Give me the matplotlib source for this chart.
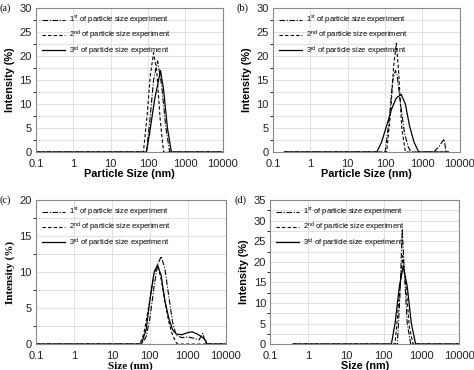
"""DLS particle size distributions, four samples (a)-(d)."""
import matplotlib
matplotlib.use("Agg")
import matplotlib.pyplot as plt
from matplotlib.ticker import MultipleLocator, FixedLocator

plt.rcParams["font.family"] = ["Liberation Sans", "DejaVu Sans"]
plt.rcParams["mathtext.fontset"] = "custom"
plt.rcParams["mathtext.rm"] = "Liberation Sans"

# ── data (size nm, intensity %) ────────────────────────────────────
# (a)
a1_x = [0.1, 90, 110, 140, 180, 230, 300, 380, 10000]
a1_y = [0, 0, 6, 15, 19, 14, 5, 0, 0]
a2_x = [0.1, 75, 95, 115, 140, 170, 210, 260, 10000]
a2_y = [0, 0, 8, 16, 20.7, 17, 7, 0, 0]
a3_x = [0.1, 90, 110, 150, 215, 260, 330, 420, 10000]
a3_y = [0, 0, 4, 11, 17, 13, 5, 0, 0]

# (b)
b1_x = [0.2, 100, 130, 160, 190, 210, 260, 330, 420, 500, 2000, 2800, 3800, 4300, 5000]
b1_y = [0, 0, 7, 15, 17, 16, 10, 4, 1, 0, 0, 1.2, 2.7, 0, 0]
b2_x = [0.2, 110, 140, 170, 200, 230, 280, 350, 5000]
b2_y = [0, 0, 8, 18, 22.7, 17, 5, 0, 0]
b3_x = [0.2, 60, 80, 110, 150, 200, 270, 350, 450, 600, 800, 5000]
b3_y = [0, 0, 2, 5.5, 9, 11.3, 12, 10, 5.5, 2, 0, 0]

# (c)
c1_x = [0.1, 60, 80, 100, 130, 160, 200, 250, 320, 400, 500, 700, 1000, 1500, 2000, 2500, 2800, 3100, 10000]
c1_y = [0, 0, 1, 3.5, 8, 11, 12.2, 10.5, 6.5, 3, 1.2, 0.9, 1.0, 0.8, 0.6, 1.5, 0.5, 0, 0]
c2_x = [0.1, 55, 70, 100, 130, 165, 200, 250, 320, 400, 500, 560, 10000]
c2_y = [0, 0, 1.5, 6, 10, 10.7, 9, 6, 3, 1.2, 0.2, 0, 0]
c3_x = [0.1, 60, 80, 100, 130, 160, 200, 250, 320, 400, 500, 700, 1000, 1300, 1800, 2500, 3000, 3200, 10000]
c3_y = [0, 0, 2, 6, 10, 11, 9.5, 6, 3.5, 2, 1.4, 1.3, 1.6, 1.7, 1.4, 0.9, 0.5, 0, 0]

# (d)
d1_x = [0.4, 230, 270, 310, 350, 420, 520, 10000]
d1_y = [0, 0, 12, 28, 18, 5, 0, 0]
d2_x = [0.4, 200, 250, 320, 390, 480, 600, 10000]
d2_y = [0, 0, 10, 21.5, 14, 4, 0, 0]
d3_x = [0.4, 160, 200, 260, 330, 420, 540, 700, 10000]
d3_y = [0, 0, 5, 14, 19, 14, 5, 0, 0]

labels = ["1$^{\\mathrm{st}}$ of particle size experiment",
          "2$^{\\mathrm{nd}}$ of particle size experiment",
          "3$^{\\mathrm{rd}}$ of particle size experiment"]

panels = [
    ("(a)", [0.076, 0.589, 0.394, 0.389], (a1_x, a1_y, a2_x, a2_y, a3_x, a3_y),
     30, "Particle Size (nm)", False),
    ("(b)", [0.576, 0.589, 0.394, 0.389], (b1_x, b1_y, b2_x, b2_y, b3_x, b3_y),
     30, "Particle Size (nm)", False),
    ("(c)", [0.076, 0.070, 0.400, 0.389], (c1_x, c1_y, c2_x, c2_y, c3_x, c3_y),
     20, "Size (nm)", True),
    ("(d)", [0.570, 0.070, 0.399, 0.389], (d1_x, d1_y, d2_x, d2_y, d3_x, d3_y),
     35, "Size (nm)", False),
]

fig = plt.figure(figsize=(4.74, 3.70), dpi=100)

for tag, pos, data, ymax, xlabel, serif in panels:
    ax = fig.add_axes(pos)
    x1, y1, x2, y2, x3, y3 = data
    ax.plot(x1, y1, color="black", lw=0.8, ls=(0, (5, 1.5, 1, 1.5)), label=labels[0])
    ax.plot(x2, y2, color="black", lw=0.8, ls=(0, (3, 2)), label=labels[1])
    ax.plot(x3, y3, color="black", lw=0.9, ls="-", label=labels[2])
    ax.set_xscale("log")
    ax.set_xlim(0.1, 10000)
    ax.set_ylim(0, ymax)
    ax.xaxis.set_major_locator(FixedLocator([0.1, 1, 10, 100, 1000, 10000]))
    ax.set_xticklabels(["0.1", "1", "10", "100", "1000", "10000"])
    ax.xaxis.set_minor_locator(FixedLocator([]))
    ax.yaxis.set_major_locator(MultipleLocator(5))
    ax.yaxis.set_minor_locator(MultipleLocator(2.5))
    ax.grid(True, which="major", color="#dcdcdc", lw=0.6)
    ax.grid(True, which="minor", axis="y", color="#dcdcdc", lw=0.6)
    ax.set_axisbelow(True)
    ax.tick_params(labelsize=8, length=0, colors="#222222")
    ax.tick_params(axis="x", pad=5)
    ax.tick_params(axis="y", pad=3)
    for s in ax.spines.values():
        s.set_color("#888888")
        s.set_linewidth(0.8)
    if serif:
        fnt = {"family": ["Liberation Serif", "DejaVu Serif"], "weight": "bold", "size": 8}
        ax.set_xlabel(xlabel, fontdict=fnt, labelpad=0)
        ax.set_ylabel("Intensity (%)", fontdict=fnt, labelpad=3)
    else:
        ax.set_xlabel(xlabel, fontsize=7.8, fontweight="bold", labelpad=0)
        ax.set_ylabel("Intensity (%)", fontsize=7.8, fontweight="bold", labelpad=3)
    ax.legend(loc="upper left", frameon=False, fontsize=5.4, handlelength=3.0,
              labelspacing=0.3, borderaxespad=0.4, handletextpad=0.6)
    fig.text(pos[0] - 0.076, pos[1] + pos[3], tag,
             family=["Liberation Serif", "DejaVu Serif"], fontsize=7.5, va="center")

fig.savefig("out.png", dpi=100)
